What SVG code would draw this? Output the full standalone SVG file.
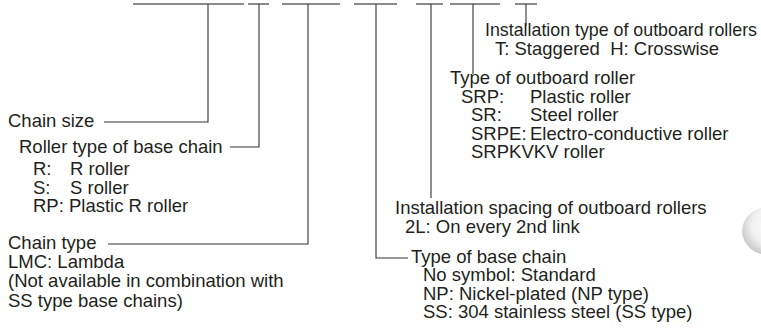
<svg xmlns="http://www.w3.org/2000/svg" width="761" height="330" viewBox="0 0 761 330">
<defs>
<radialGradient id="blob" cx="0.6" cy="0.4" r="0.62">
<stop offset="0" stop-color="#ffffff"/>
<stop offset="0.7" stop-color="#f1f1f1"/>
<stop offset="1" stop-color="#cbcbcb"/>
</radialGradient>
</defs>
<style>
text{font-family:"Liberation Sans",Arial,Helvetica,sans-serif;font-size:18.5px;fill:#231f20}
.bar{stroke:#8a8a8a;stroke-width:2;fill:none}
.ln{stroke:#333;stroke-width:1.1;fill:none}
</style>
<rect width="761" height="330" fill="#fff"/>
<ellipse cx="772" cy="231" rx="30" ry="25" fill="url(#blob)"/>
<g id="connectors">
<line class="bar" x1="133" y1="4" x2="244" y2="4"/>
<line class="bar" x1="248" y1="4" x2="269" y2="4"/>
<line class="bar" x1="282" y1="4" x2="340" y2="4"/>
<line class="bar" x1="354" y1="4" x2="397" y2="4"/>
<line class="bar" x1="416" y1="4" x2="443" y2="4"/>
<line class="bar" x1="450" y1="4" x2="500" y2="4"/>
<line class="bar" x1="515" y1="4" x2="537" y2="4"/>
<polyline class="ln" points="208,4 208,122 104,122"/>
<polyline class="ln" points="259,4 259,147 230,147"/>
<polyline class="ln" points="308,4 308,244 108,244"/>
<polyline class="ln" points="376,4 376,258 408,258"/>
<polyline class="ln" points="431,4 431,198"/>
<polyline class="ln" points="473,4 473,74"/>
<polyline class="ln" points="526,4 526,26"/>
</g>
<g id="chain-size"><text x="8" y="127">Chain size</text></g>
<g id="roller-type">
<text x="19" y="153">Roller type of base chain</text>
<text x="33" y="175">R:</text><text x="70" y="175">R roller</text>
<text x="33" y="194">S:</text><text x="70" y="194">S roller</text>
<text x="33" y="212">RP: Plastic R roller</text>
</g>
<g id="chain-type">
<text x="8" y="249">Chain type</text>
<text x="8" y="268">LMC: Lambda</text>
<text x="8" y="287">(Not available in combination with</text>
<text x="8" y="307">SS type base chains)</text>
</g>
<g id="base-chain">
<text x="411" y="263">Type of base chain</text>
<text x="423" y="281">No symbol: Standard</text>
<text x="423" y="300">NP: Nickel-plated (NP type)</text>
<text x="423" y="318">SS: 304 stainless steel (SS type)</text>
</g>
<g id="spacing">
<text x="395" y="214">Installation spacing of outboard rollers</text>
<text x="405" y="233">2L: On every 2nd link</text>
</g>
<g id="outboard-roller">
<text x="450" y="84">Type of outboard roller</text>
<text x="461" y="103">SRP:</text><text x="530" y="103">Plastic roller</text>
<text x="471" y="121">SR:</text><text x="530" y="121">Steel roller</text>
<text x="471" y="140">SRPE:</text><text x="530" y="140">Electro-conductive roller</text>
<text x="471" y="158">SRPKVKV roller</text>
</g>
<g id="install-type">
<text x="485" y="36" textLength="272" lengthAdjust="spacingAndGlyphs">Installation type of outboard rollers</text>
<text x="495" y="55">T: Staggered&#160; H: Crosswise</text>
</g>
</svg>
